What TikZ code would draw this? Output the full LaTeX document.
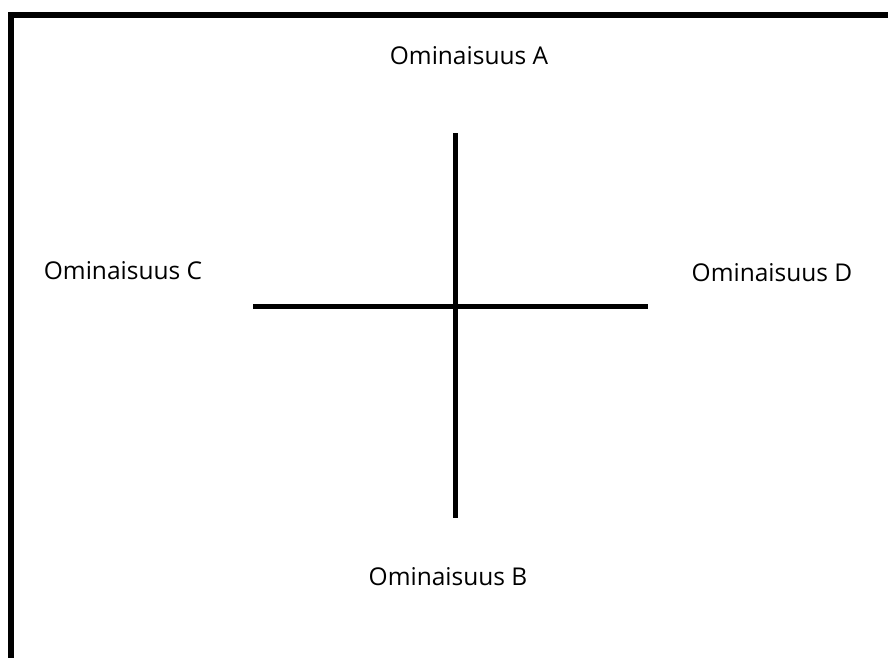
\documentclass[tikz,border=0pt]{standalone}
\usepackage{fontspec}
\setmainfont{Open Sans}
\begin{document}
\begin{tikzpicture}[x=1pt,y=-1pt,
  lbl/.style={font=\fontsize{24.5}{28}\selectfont, text=black, inner sep=0pt},
  axis/.style={line width=5pt, black},
  frame/.style={line width=6pt, black}]
\useasboundingbox (0,0) rectangle (888,657);
\fill[white] (0,0) rectangle (888,657);
\coordinate (fbl) at (11,660);
\coordinate (ftl) at (11,15);
\coordinate (ftr) at (891,15);
\draw[frame] (fbl) -- (ftl) -- (ftr);
\coordinate (vt) at (455.5,133);
\coordinate (vb) at (455.5,518);
\coordinate (hl) at (253,306.5);
\coordinate (hr) at (648,306.5);
\draw[axis] (vt) -- (vb);
\draw[axis] (hl) -- (hr);
\node[lbl] (a) at (469,56) {Ominaisuus A};
\node[lbl] (b) at (448,577) {Ominaisuus B};
\node[lbl] (c) at (123,271) {Ominaisuus C};
\node[lbl] (d) at (772,273) {Ominaisuus D};
\end{tikzpicture}
\end{document}
